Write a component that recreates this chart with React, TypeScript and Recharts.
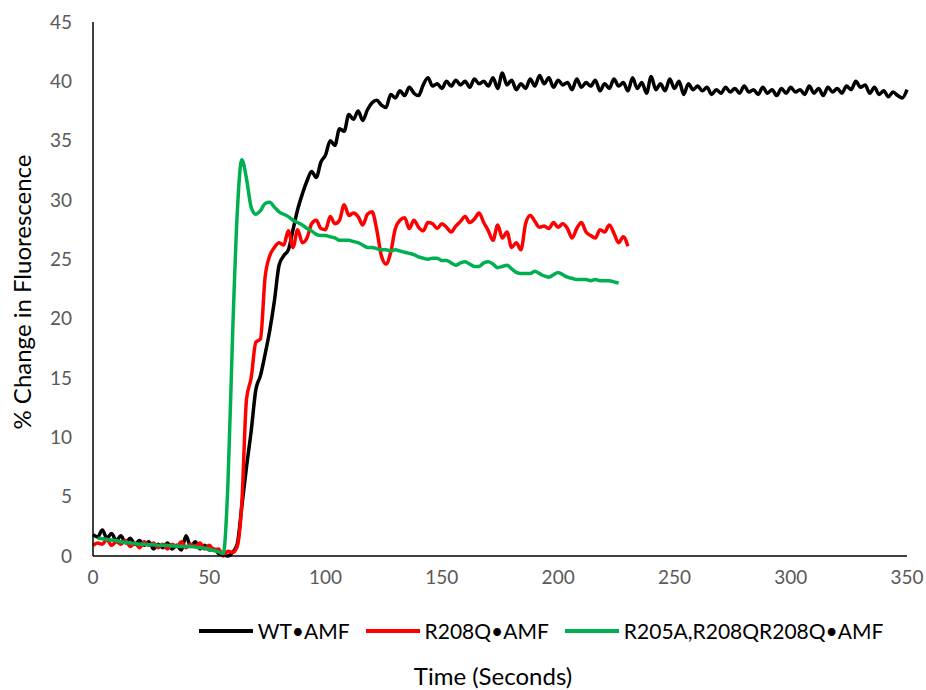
import React from 'react';
import { LineChart, Line, XAxis, YAxis, Legend } from 'recharts';

// sampling grid, one reading every 2 s
const times = Array.from({ length: 176 }, (_, i) => i * 2);

const xTicks = [0, 50, 100, 150, 200, 250, 300, 350];
const yTicks = [0, 5, 10, 15, 20, 25, 30, 35, 40, 45];

// WT•AMF, t = 0..350
const wt = [
  1.8, 1.6, 2.2, 1.5, 1.9, 1.3, 1.7, 1.1, 1.5, 1.0,
  1.3, 0.9, 1.2, 0.6, 1.0, 0.7, 1.1, 0.6, 0.9, 0.5,
  1.7, 0.8, 1.2, 0.6, 0.9, 0.5, 0.6, 0.2, 0.1, 0.0,
  0.3, 1.0, 4.2, 7.5, 10.5, 14.0, 15.2, 17.0, 19.0, 21.5,
  24.5, 25.3, 25.8, 27.5, 29.2, 30.5, 31.6, 32.4, 31.9, 33.2,
  33.8, 35.0, 34.6, 36.0, 35.8, 37.2, 36.8, 37.5, 36.7, 37.6,
  38.2, 38.4, 38.0, 37.8, 38.9, 38.6, 39.2, 38.8, 39.5, 39.0,
  38.8, 39.7, 40.3, 39.6, 39.8, 39.4, 40.0, 39.6, 40.1, 39.7,
  40.0, 39.5, 40.2, 39.8, 40.0, 39.6, 40.3, 39.4, 40.7, 39.7,
  40.1, 39.3, 39.8, 39.4, 40.2, 39.6, 40.5, 39.8, 40.3, 39.5,
  40.1, 39.7, 39.9, 39.3, 40.2, 39.5, 39.9, 39.6, 40.1, 39.2,
  39.8, 39.4, 40.2, 39.6, 39.9, 39.2, 40.3, 39.4, 39.9, 39.0,
  40.4, 39.3, 39.8, 39.2, 40.2, 39.4, 40.0, 38.9, 39.8, 39.3,
  39.6, 39.2, 39.5, 38.9, 39.3, 39.0, 39.5, 39.1, 39.4, 39.0,
  39.6, 39.1, 39.3, 38.9, 39.5, 39.0, 39.3, 38.8, 39.4, 39.0,
  39.5, 39.1, 39.3, 38.9, 39.6, 39.0, 39.4, 38.8, 39.5, 39.1,
  39.4, 39.0, 39.6, 39.3, 40.0, 39.5, 39.7, 39.0, 39.5, 38.9,
  39.2, 38.7, 39.1, 38.8, 38.6, 39.3,
];

// R208Q•AMF, t = 0..230
const r208q = [
  0.9, 1.1, 1.0, 1.4, 0.9, 1.2, 1.0, 1.3, 0.8, 1.1,
  0.7, 1.2, 0.9, 1.1, 0.7, 1.0, 0.6, 1.0, 0.8, 1.2,
  0.7, 1.0, 0.8, 1.1, 0.6, 0.9, 0.5, 0.6, 0.0, 0.4,
  0.3, 0.8, 4.5, 13.2, 15.0, 18.0, 18.3, 23.5, 25.3, 26.0,
  26.4, 26.2, 27.4, 26.0, 27.5, 26.4, 26.8, 28.0, 28.3, 27.6,
  27.5, 28.6, 28.0, 28.3, 29.6, 28.7, 28.9, 28.6, 27.9, 28.8,
  29.0, 27.5, 25.3, 24.6, 25.6, 27.6, 28.3, 28.5, 27.6, 28.3,
  27.7, 27.4, 28.1, 28.0, 27.6, 28.0, 27.7, 27.3, 27.8, 28.2,
  28.6, 28.1, 28.4, 28.9, 28.1, 27.4, 26.6, 27.9, 26.8, 27.3,
  26.0, 26.4, 25.8, 28.0, 28.7, 28.2, 27.7, 27.8, 27.6, 28.1,
  27.7, 28.0, 27.6, 26.8, 27.6, 28.1, 27.3, 27.0, 26.8, 27.5,
  27.3, 27.9, 27.2, 26.4, 26.9, 26.1,
];

// R205A,R208Q•AMF, t = 0..226 (no reading at t = 0)
const r205a = [
  null, 1.5, 1.45, 1.4, 1.35, 1.3, 1.2, 1.15, 1.1, 1.05,
  1.0, 1.0, 0.95, 0.95, 0.9, 0.9, 0.9, 0.85, 0.85, 0.8,
  0.8, 0.8, 0.75, 0.7, 0.65, 0.55, 0.45, 0.35, 0.2, 6.0,
  18.5, 28.8, 33.4, 31.8, 29.4, 28.8, 29.1, 29.7, 29.8, 29.4,
  29.0, 28.8, 28.6, 28.3, 28.1, 27.9, 27.6, 27.4, 27.1, 27.0,
  27.0, 26.9, 26.8, 26.6, 26.6, 26.6, 26.5, 26.4, 26.2, 26.0,
  26.0, 25.9, 25.8, 25.8, 25.7, 25.8, 25.7, 25.6, 25.5, 25.4,
  25.2, 25.1, 25.0, 25.1, 25.1, 24.9, 24.9, 24.7, 24.5, 24.7,
  24.8, 24.6, 24.4, 24.4, 24.7, 24.8, 24.6, 24.3, 24.4, 24.5,
  24.2, 23.9, 23.8, 23.8, 23.8, 24.0, 23.8, 23.6, 23.5, 23.7,
  23.9, 23.7, 23.5, 23.4, 23.3, 23.3, 23.3, 23.2, 23.3, 23.2,
  23.2, 23.2, 23.1, 23.0,
];

const seriesInfo = [
  { key: 'wt', name: 'WT•AMF', color: '#000000' },
  { key: 'r208q', name: 'R208Q•AMF', color: '#FF0000' },
  { key: 'r205a', name: 'R205A,R208QR208Q•AMF', color: '#00B050' },
];

const data = times.map((t, i) => ({
  t,
  wt: wt[i] ?? null,
  r208q: r208q[i] ?? null,
  r205a: r205a[i] ?? null,
}));

const FONT = 'Lato, "Open Sans", sans-serif';

const renderLegend = () => (
  <div style={{ display: 'flex', justifyContent: 'center', fontFamily: FONT, fontSize: 21, color: '#000' }}>
    {seriesInfo.map((s, i) => (
      <div key={s.key} style={{ display: 'flex', alignItems: 'center', marginLeft: i === 0 ? 0 : 16 }}>
        <div style={{ width: 54, height: 4, background: s.color, marginRight: 5 }} />
        <span>{s.name}</span>
      </div>
    ))}
  </div>
);

export default function App() {
  return (
    <div style={{ position: 'absolute', left: 0, top: 0, width: 926, height: 690, background: '#fff', fontFamily: FONT }}>
      <LineChart width={926} height={690} data={data} margin={{ top: 22, right: 19, left: 0, bottom: 0 }}>
        <XAxis
          dataKey="t"
          type="number"
          domain={[0, 350]}
          ticks={xTicks}
          tickLine={false}
          tickMargin={9}
          height={134}
          axisLine={{ stroke: '#000', strokeWidth: 1.5 }}
          tick={{ fill: '#595959', fontSize: 19, fontFamily: FONT }}
          label={{ value: 'Time (Seconds)', position: 'insideBottom', offset: 5, dx: -7, style: { fill: '#000', fontSize: 24, fontFamily: FONT } }}
        />
        <YAxis
          type="number"
          domain={[0, 45]}
          ticks={yTicks}
          width={93}
          tickLine={false}
          tickMargin={15}
          axisLine={{ stroke: '#000', strokeWidth: 1.5 }}
          tick={{ fill: '#595959', fontSize: 19, fontFamily: FONT }}
          label={{ value: '% Change in Fluorescence', angle: -90, position: 'insideLeft', offset: 22, dy: 3, style: { textAnchor: 'middle', fill: '#000', fontSize: 24, fontFamily: FONT } }}
        />
        <Legend
          layout="horizontal"
          verticalAlign="middle"
          align="center"
          content={renderLegend}
          wrapperStyle={{ top: 618, left: 78, width: 926 }}
        />
        {seriesInfo.map((s) => (
          <Line
            key={s.key}
            dataKey={s.key}
            name={s.name}
            type="monotone"
            stroke={s.color}
            strokeWidth={3.5}
            dot={false}
            isAnimationActive={false}
          />
        ))}
      </LineChart>
    </div>
  );
}
